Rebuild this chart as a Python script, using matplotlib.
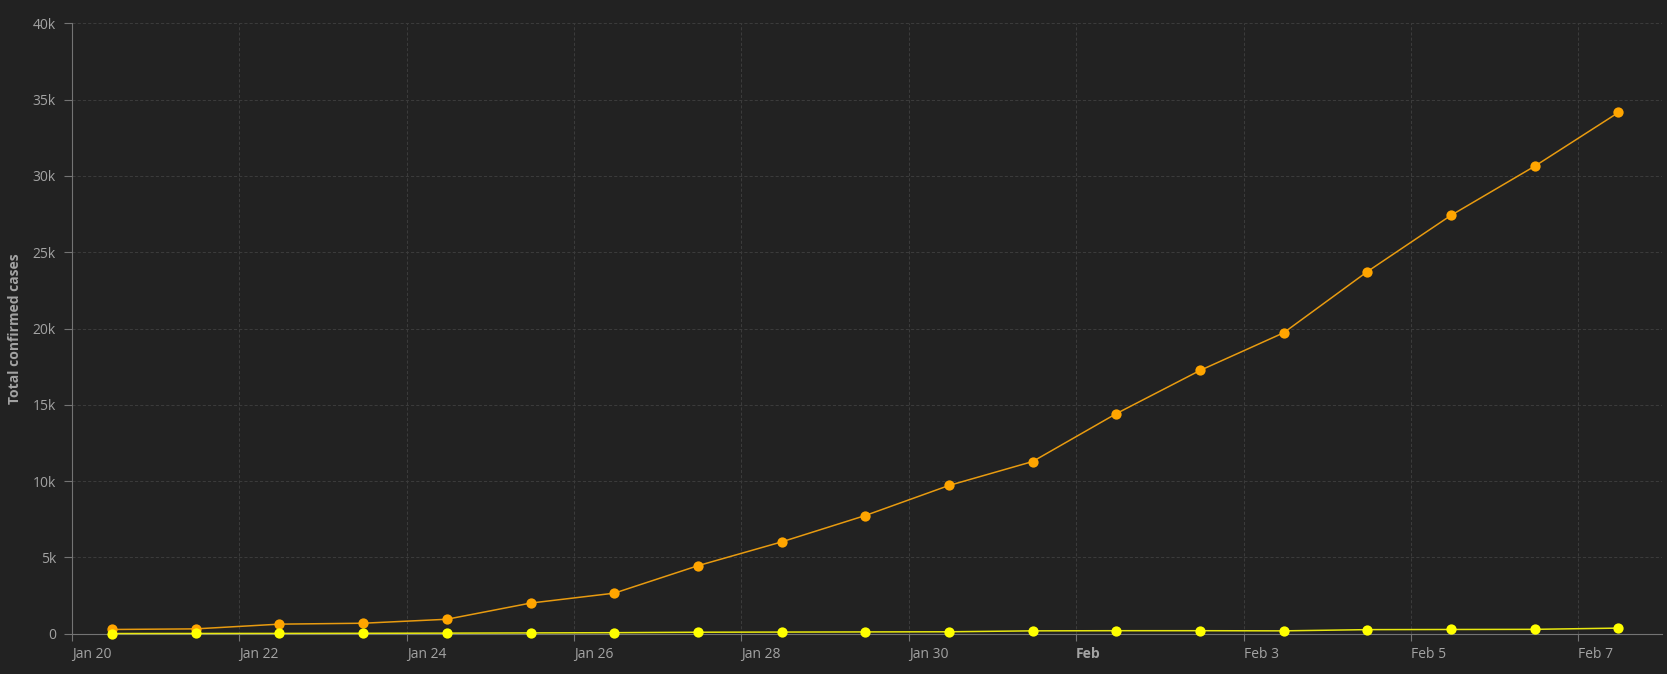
import matplotlib.pyplot as plt
import matplotlib.dates as mdates
from matplotlib.transforms import ScaledTranslation
import numpy as np

# Cumulative confirmed cases, one report per day (mid-day timestamps)
report_times = [
    "2020-01-20T11:30", "2020-01-21T11:30", "2020-01-22T11:30", "2020-01-23T11:30",
    "2020-01-24T11:30", "2020-01-25T11:30", "2020-01-26T11:30", "2020-01-27T11:30",
    "2020-01-28T11:30", "2020-01-29T11:30", "2020-01-30T11:30", "2020-01-31T11:30",
    "2020-02-01T11:30", "2020-02-02T11:30", "2020-02-03T11:30", "2020-02-04T11:30",
    "2020-02-05T11:30", "2020-02-06T11:30", "2020-02-07T11:30",
]
china_cases = [270, 310, 620, 680, 940, 2000, 2650, 4450, 6010, 7740, 9710,
               11280, 14420, 17250, 19720, 23730, 27420, 30640, 34160]
other_cases = [5, 8, 12, 20, 30, 45, 60, 90, 100, 110, 120,
               180, 190, 190, 180, 260, 270, 280, 360]

x_range = ["2020-01-20", "2020-02-08"]
x_tick_dates = ["2020-01-20", "2020-01-22", "2020-01-24", "2020-01-26", "2020-01-28",
                "2020-01-30", "2020-02-01", "2020-02-03", "2020-02-05", "2020-02-07"]
x_tick_labels = ["Jan 20", "Jan 22", "Jan 24", "Jan 26", "Jan 28",
                 "Jan 30", "Feb", "Feb 3", "Feb 5", "Feb 7"]
y_ticks = [0, 5000, 10000, 15000, 20000, 25000, 30000, 35000, 40000]
y_tick_labels = ["0", "5k", "10k", "15k", "20k", "25k", "30k", "35k", "40k"]

BG = "#222222"
GRID = "#3b3b3b"
AXIS = "#747474"
TEXT = "#a3a3a3"
ORANGE = "#ffa500"
ORANGE_LINE = "#e89b10"
YELLOW = "#ffff00"
YELLOW_LINE = "#e8e810"

plt.rcParams["font.family"] = ["Open Sans", "DejaVu Sans"]


def to_num(values):
    return mdates.date2num(np.array(values, dtype="datetime64[m]"))


def plot_cases(out_path="out.png"):
    fig = plt.figure(figsize=(16.67, 6.74), dpi=100, facecolor=BG)
    ax = fig.add_axes([72 / 1667, 40.4 / 674, 1590 / 1667, 610.2 / 674])
    ax.set_facecolor(BG)

    x = to_num(report_times)
    ax.plot(x, china_cases, color=ORANGE_LINE, linewidth=1.1, marker="o",
            markersize=7.4, markerfacecolor=ORANGE, markeredgewidth=0,
            clip_on=False, zorder=3)
    ax.plot(x, other_cases, color=YELLOW_LINE, linewidth=1.1, marker="o",
            markersize=7.4, markerfacecolor=YELLOW, markeredgewidth=0,
            clip_on=False, zorder=4)

    ax.set_xlim(*to_num(x_range))
    ax.set_ylim(0, 40000)

    ax.set_yticks(y_ticks)
    ax.set_yticklabels(y_tick_labels)
    ax.set_xticks(to_num(x_tick_dates))
    ax.set_xticklabels(x_tick_labels, ha="left")

    # labels sit just right of their tick, not centred on it
    shift = ScaledTranslation(3 / 100, 0, fig.dpi_scale_trans)
    for label in ax.get_xticklabels():
        label.set_transform(label.get_transform() + shift)
        if label.get_text() == "Feb":
            label.set_fontweight("bold")
            label.set_color("#cfcfcf")

    ax.tick_params(axis="both", colors=AXIS, labelcolor=TEXT, labelsize=10, width=0.8)
    ax.tick_params(axis="y", length=5.8, pad=5.8)
    ax.tick_params(axis="x", length=5, pad=5)

    ax.grid(True, color=GRID, linestyle=(0, (3, 2)), linewidth=0.75)
    ax.set_axisbelow(True)

    for side in ("top", "right"):
        ax.spines[side].set_visible(False)
    ax.spines["left"].set_color(AXIS)
    ax.spines["bottom"].set_color(AXIS)
    ax.spines["left"].set_linewidth(0.8)
    ax.spines["bottom"].set_linewidth(0.8)

    ax.set_ylabel("Total confirmed cases", color=TEXT, fontsize=10, fontweight="bold")
    ax.yaxis.set_label_coords(-0.036, 0.5)
    ax.yaxis.label.set_va("center")

    fig.savefig(out_path, dpi=100, facecolor=BG)
    plt.close(fig)


if __name__ == "__main__":
    plot_cases()
